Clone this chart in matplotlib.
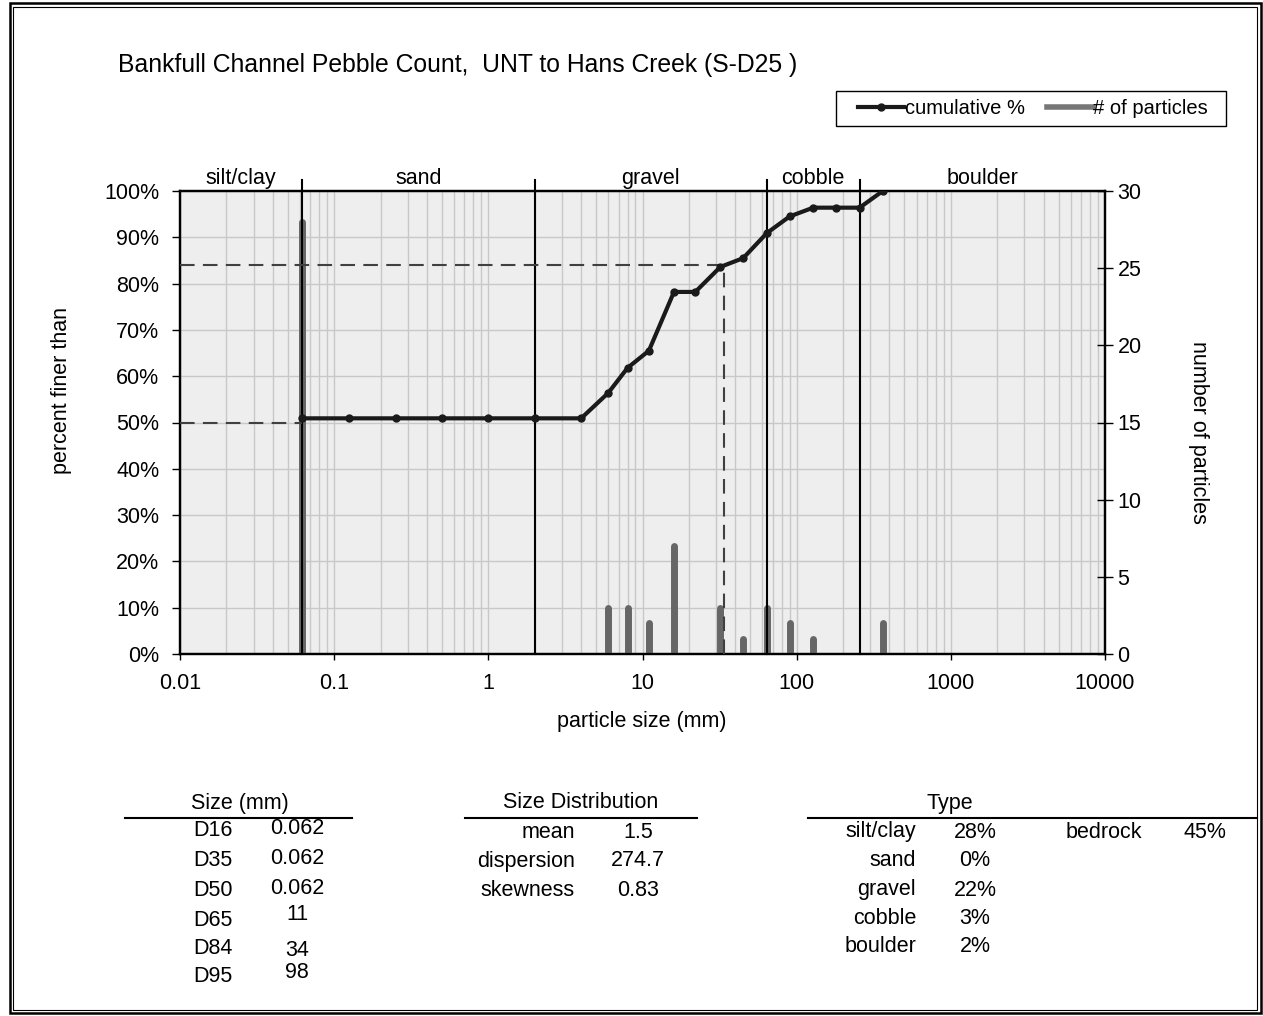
import matplotlib
matplotlib.use("Agg")
import matplotlib.pyplot as plt
from matplotlib.lines import Line2D
from matplotlib.patches import Rectangle
from matplotlib.ticker import LogLocator, FixedLocator, FuncFormatter

plt.rcParams['font.family'] = ['Liberation Sans', 'DejaVu Sans']

# particle size classes (mm) and readings
sizes = [0.062, 0.125, 0.25, 0.5, 1, 2, 4, 6, 8, 11, 16, 22, 32, 45, 64, 90, 128, 180, 256, 362]
cum_pct = [50.9, 50.9, 50.9, 50.9, 50.9, 50.9, 50.9, 56.4, 61.8, 65.5, 78.2, 78.2, 83.6, 85.5,
           90.9, 94.5, 96.4, 96.4, 96.4, 100.0]
bar_sizes = [0.062, 6, 8, 11, 16, 32, 45, 64, 90, 128, 362]
bar_counts = [28, 3, 3, 2, 7, 3, 1, 3, 2, 1, 2]

class_bounds = [0.062, 2, 64, 256]
class_names = ['silt/clay', 'sand', 'gravel', 'cobble', 'boulder']
class_centers = [0.0249, 0.352, 11.3, 128, 1600]

d50, d84 = 0.062, 34

size_labels = ['D16', 'D35', 'D50', 'D65', 'D84', 'D95']
size_values = ['0.062', '0.062', '0.062', '11', '34', '98']
dist_labels = ['mean', 'dispersion', 'skewness']
dist_values = ['1.5', '274.7', '0.83']
type_labels = ['silt/clay', 'sand', 'gravel', 'cobble', 'boulder']
type_values = ['28%', '0%', '22%', '3%', '2%']

W, H = 1263, 1016
FS = 15.5


def fx(px):
    return px / W


def fy(py):
    return 1 - py / H


fig = plt.figure(figsize=(W / 100, H / 100), dpi=100)
ax = fig.add_axes([fx(180), fy(654), fx(1105) - fx(180), fy(191) - fy(654)])
ax2 = ax.twinx()
ax.set_zorder(1)
ax2.set_zorder(2)
ax2.patch.set_visible(False)

ax.set_facecolor('#eeeeee')
ax.set_xscale('log')
ax.set_xlim(0.01, 10000)
ax.set_ylim(0, 100)
ax2.set_ylim(0, 30)

# grid
ax.yaxis.set_major_locator(FixedLocator(range(0, 101, 10)))
ax.xaxis.set_major_locator(LogLocator(base=10, numticks=10))
ax.xaxis.set_minor_locator(LogLocator(base=10, subs=range(2, 10), numticks=100))
ax.grid(True, which='both', axis='x', color='#c8c8c8', lw=1.0)
ax.grid(True, which='major', axis='y', color='#c8c8c8', lw=1.0)
ax.set_axisbelow(True)

ax.yaxis.set_major_formatter(FuncFormatter(lambda v, p: f'{v:.0f}%'))
ax.xaxis.set_major_formatter(FuncFormatter(lambda v, p: f'{v:g}'))
ax.tick_params(axis='y', direction='out', length=6, width=1, pad=9, labelsize=FS)
ax.tick_params(axis='x', which='major', direction='out', length=4, width=1, pad=10, labelsize=FS)
ax.tick_params(axis='x', which='minor', length=0)
ax2.yaxis.set_major_locator(FixedLocator(range(0, 31, 5)))
ax2.tick_params(axis='y', direction='inout', length=12, width=1, pad=3, labelsize=FS)
for a in (ax, ax2):
    for s in a.spines.values():
        s.set_color('black')
        s.set_linewidth(1.6)

# particle counts
ax2.vlines(bar_sizes, 0, bar_counts, colors='#666666', linewidth=5, capstyle='round', zorder=2)

# class boundaries
for b in class_bounds:
    ax2.axvline(b, 0, 1.024, color='black', lw=1.5, clip_on=False, zorder=3)
for name, c in zip(class_names, class_centers):
    ax.text(c, 1.004, name, transform=ax.get_xaxis_transform(), ha='center', va='bottom', fontsize=FS)

# D50 / D84 guide lines
dash = dict(color='#404040', lw=1.5, linestyle=(0, (7, 4)), zorder=4, transform=ax.transData)
ax2.plot([0.01, d50], [50, 50], **dash)
ax2.plot([0.01, d84], [84, 84], **dash)
ax2.plot([d84, d84], [0, 84], **dash)

# cumulative curve
ax2.plot(sizes, cum_pct, color='#1a1a1a', lw=3, marker='o', ms=5, zorder=5,
         transform=ax.transData, solid_joinstyle='round')

fig.text(fx(62), fy(390), 'percent finer than', rotation=90, ha='center', va='center', fontsize=FS)
fig.text(fx(1198), fy(432), 'number of particles', rotation=270, ha='center', va='center', fontsize=FS)
fig.text(fx(642), fy(722), 'particle size (mm)', ha='center', va='center', fontsize=FS)
fig.text(fx(118), fy(65), 'Bankfull Channel Pebble Count,  UNT to Hans Creek (S-D25 )',
         ha='left', va='center', fontsize=17.8)

# legend
handles = [Line2D([], [], color='#1a1a1a', lw=3, marker='o', ms=5),
           Line2D([], [], color='#777777', lw=4)]
fig.legend(handles, ['cumulative %', '# of particles'], ncol=2, loc='center',
           bbox_to_anchor=(fx(1033), fy(108.5)), fontsize=14.5, frameon=False,
           handlelength=2.3, handletextpad=0.02, columnspacing=1.1, borderpad=0.2)
fig.add_artist(Rectangle((fx(836), fy(126)), fx(1226) - fx(836), fy(91) - fy(126),
                         fill=False, edgecolor='black', lw=1.0))


# summary tables
def hline(x0, x1, y):
    fig.add_artist(Line2D([fx(x0), fx(x1)], [fy(y), fy(y)], color='black', lw=1.5))


fig.text(fx(240), fy(803), 'Size (mm)', ha='center', va='center', fontsize=FS)
hline(125, 352, 818)
size_y = [831, 861, 890, 920, 948, 976]
size_vy = [829, 859, 888, 915, 950, 972]
for lab, val, y, vy in zip(size_labels, size_values, size_y, size_vy):
    fig.text(fx(213), fy(y), lab, ha='center', va='center', fontsize=FS)
    fig.text(fx(297), fy(vy), val, ha='center', va='center', fontsize=FS)

fig.text(fx(581), fy(803), 'Size Distribution', ha='center', va='center', fontsize=FS)
hline(465, 697, 818)
for lab, val, y in zip(dist_labels, dist_values, [832, 861, 890]):
    fig.text(fx(575), fy(y), lab, ha='right', va='center', fontsize=FS)
    fig.text(fx(638), fy(y), val, ha='center', va='center', fontsize=FS)

fig.text(fx(950), fy(804), 'Type', ha='center', va='center', fontsize=FS)
hline(808, 1257, 818)
for lab, val, y in zip(type_labels, type_values, [832, 861, 890, 918, 947]):
    fig.text(fx(916), fy(y), lab, ha='right', va='center', fontsize=FS)
    fig.text(fx(975), fy(y), val, ha='center', va='center', fontsize=FS)
fig.text(fx(1104), fy(832), 'bedrock', ha='center', va='center', fontsize=FS)
fig.text(fx(1205), fy(832), '45%', ha='center', va='center', fontsize=FS)

# double page border
fig.add_artist(Rectangle((fx(10), fy(1013)), fx(1260.5) - fx(10), fy(3) - fy(1013),
                         fill=False, edgecolor='black', lw=1.8))
fig.add_artist(Rectangle((fx(13.5), fy(1010)), fx(1257) - fx(13.5), fy(6.5) - fy(1010),
                         fill=False, edgecolor='black', lw=0.8))

fig.savefig('out.png', dpi=100)
